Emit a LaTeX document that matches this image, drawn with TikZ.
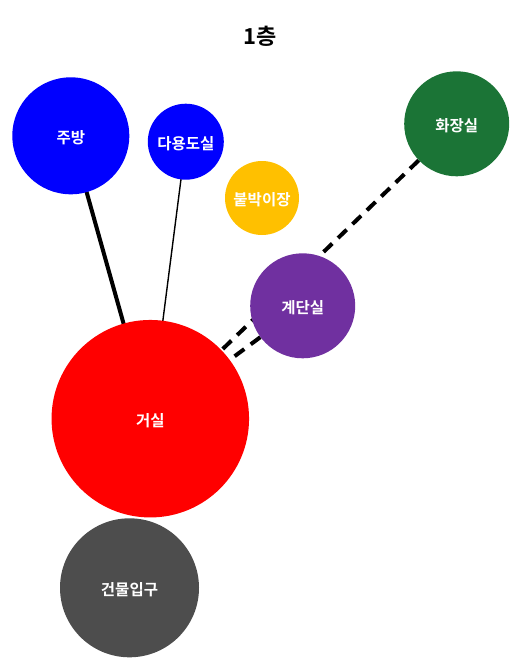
\documentclass[tikz,border=0pt]{standalone}
\usepackage{fontspec}
\newfontfamily\kr{Noto Sans CJK KR}[BoldFont={* Bold}]
\usetikzlibrary{backgrounds}
\definecolor{cblue}{HTML}{0000FF}
\definecolor{cgold}{HTML}{FFC000}
\definecolor{cgreen}{HTML}{1B7436}
\definecolor{cpurple}{HTML}{7030A0}
\definecolor{cred}{HTML}{FF0000}
\definecolor{cgray}{HTML}{4D4D4D}
\tikzset{
  room/.style={circle, inner sep=0pt, text=white, font=\kr\bfseries\fontsize{15.5}{18}\selectfont},
  roomlabel/.style={text=white, font=\kr\bfseries\fontsize{15.5}{18}\selectfont, inner sep=0pt},
  thickline/.style={line width=4pt, black},
  thinline/.style={line width=1.4pt, black},
  dashline/.style={line width=4pt, black, dash pattern=on 12pt off 8pt},
}
\begin{document}
\begin{tikzpicture}[x=1pt,y=-1pt]
\useasboundingbox (0,0) rectangle (522,670);
\node[font=\kr\bfseries\fontsize{22}{26}\selectfont] (title) at (260,36) {1층};
\node[room, fill=cblue, minimum size=117pt] (kitchen) at (70.8,135.8) {};
\node[room, fill=cblue, minimum size=76pt] (utility) at (185.8,141.7) {};
\node[room, fill=cgold, minimum size=74pt] (closet) at (262,198) {};
\node[room, fill=cgreen, minimum size=105pt] (bath) at (456.7,123.8) {};
\node[room, fill=cpurple, minimum size=105pt] (stairs) at (302.7,305.8) {};
\node[room, fill=cred, minimum size=197.5pt] (living) at (150.3,418.7) {};
\node[room, fill=cgray, minimum size=139pt] (entry) at (129.5,587.8) {};
\node[roomlabel] (kitchenL) at ([yshift=-2pt]kitchen.center) {주방};
\node[roomlabel] (utilityL) at ([yshift=-2pt]utility.center) {다용도실};
\node[roomlabel] (closetL) at ([yshift=-2pt]closet.center) {붙박이장};
\node[roomlabel] (bathL) at ([yshift=-2pt]bath.center) {화장실};
\node[roomlabel] (stairsL) at ([yshift=-2pt]stairs.center) {계단실};
\node[roomlabel] (livingL) at ([yshift=-2pt]living.center) {거실};
\node[roomlabel] (entryL) at ([yshift=-2pt]entry.center) {건물입구};
\begin{scope}[on background layer]
\draw[thickline] (kitchen.center) -- (living.center);
\draw[thinline] (utility.center) -- (living.center);
\draw[dashline] (bath) -- (living);
\draw[dashline] (stairs) -- (living);
\end{scope}
\end{tikzpicture}
\end{document}
